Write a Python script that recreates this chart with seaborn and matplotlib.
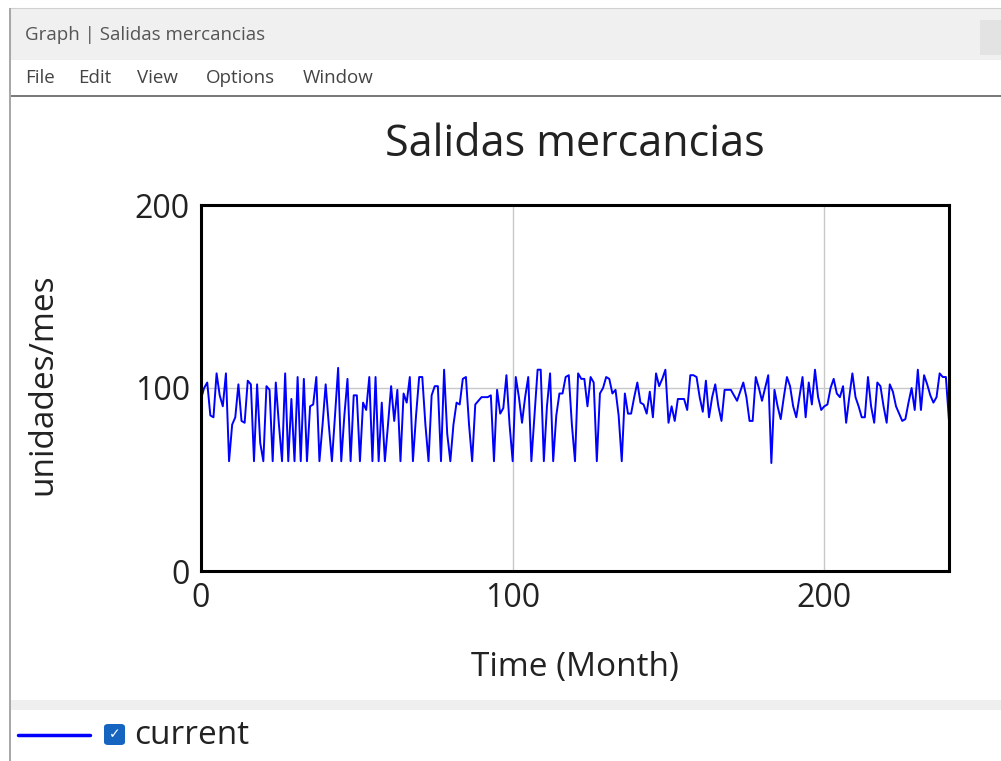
import numpy as np
import pandas as pd
import seaborn as sns
import matplotlib.pyplot as plt
from matplotlib.patches import Rectangle, FancyBboxPatch

# Salidas mercancias, months 0..240
months = list(range(241))
salidas = [
    94, 100, 103, 85, 84, 108, 96, 90, 108, 60,
    80, 84, 102, 82, 81, 104, 102, 60, 102, 70,
    60, 101, 99, 60, 103, 80, 60, 108, 60, 94,
    60, 106, 60, 105, 60, 90, 91, 106, 60, 80,
    102, 80, 60, 85, 111, 60, 85, 105, 60, 96,
    96, 60, 92, 88, 106, 60, 106, 60, 92, 60,
    80, 101, 82, 99, 60, 97, 92, 106, 60, 85,
    106, 106, 80, 60, 96, 101, 101, 60, 110, 75,
    60, 80, 92, 91, 105, 106, 80, 60, 91, 93,
    95, 95, 95, 96, 60, 99, 86, 89, 107, 80,
    60, 106, 95, 81, 95, 106, 60, 85, 110, 110,
    60, 90, 108, 60, 85, 97, 97, 106, 107, 80,
    60, 108, 105, 105, 90, 106, 103, 60, 97, 100,
    106, 105, 97, 99, 85, 60, 97, 86, 86, 95,
    103, 92, 91, 86, 98, 84, 108, 101, 105, 110,
    81, 90, 82, 94, 94, 94, 88, 107, 107, 106,
    95, 87, 104, 84, 95, 102, 90, 82, 99, 99,
    99, 96, 93, 98, 103, 95, 82, 82, 106, 100,
    93, 100, 107, 59, 99, 90, 83, 95, 106, 101,
    90, 84, 95, 106, 84, 103, 91, 110, 95, 88,
    90, 91, 100, 105, 97, 95, 101, 81, 95, 108,
    95, 90, 84, 84, 106, 90, 81, 103, 101, 90,
    81, 102, 98, 90, 86, 82, 83, 92, 100, 88,
    110, 88, 107, 102, 96, 92, 95, 108, 106, 106,
    82,
]
x_ticks = [0, 100, 200]
y_ticks = [0, 100, 200]
series_name = "current"

df = pd.DataFrame({"Time": months, "value": salidas})

sns.set_style("white")
plt.rcParams['font.family'] = ['Open Sans', 'DejaVu Sans']

W, H = 1001, 761
fig = plt.figure(figsize=(W / 100, H / 100), dpi=100)
fig.patch.set_facecolor("white")


def px_rect(x0, y0, x1, y1, **kw):
    # rectangle in screen pixels (y from top)
    r = Rectangle((x0 / W, 1 - y1 / H), (x1 - x0) / W, (y1 - y0) / H,
                  transform=fig.transFigure, **kw)
    fig.add_artist(r)
    return r


# window chrome
px_rect(10, 8, W + 5, 60, facecolor="#f0f0f0", edgecolor="#d0d0d0", lw=0.8)
px_rect(980, 20, W + 5, 55, facecolor="#e3e3e3", edgecolor="none")
fig.text(25 / W, 1 - 35 / H, "Graph | Salidas mercancias", fontsize=13.5,
         color="#555555", va="center", ha="left")
px_rect(10, 60, W + 5, 96, facecolor="white", edgecolor="none")
menu_x = [25, 78, 137, 206, 303]
for mx, lab in zip(menu_x, ["File", "Edit", "View", "Options", "Window"]):
    fig.text(mx / W, 1 - 78 / H, lab, fontsize=13.5, color="#444444",
             va="center", ha="left")
px_rect(10, 95, W + 5, 97, facecolor="#7a7a7a", edgecolor="none")
px_rect(9, 8, 11, H + 5, facecolor="#a8a8a8", edgecolor="none")
px_rect(11, 700, W + 5, 710, facecolor="#efefef", edgecolor="none")

# plot area
ax = fig.add_axes([201 / W, 1 - 571 / H, (949 - 201) / W, (571 - 205) / H])
sns.lineplot(data=df, x="Time", y="value", ax=ax, color="#0000ff",
             linewidth=1.4, legend=False)
ax.set_xlim(0, 240)
ax.set_ylim(0, 200)
ax.set_xticks(x_ticks)
ax.set_yticks(y_ticks)
ax.set_xticklabels([str(t) for t in x_ticks])
ax.set_yticklabels([str(t) for t in y_ticks])
ax.tick_params(axis="both", length=0, labelsize=23, pad=8, colors="#222222")
ax.grid(True, color="#c8c8c8", linewidth=1.0)
for s in ax.spines.values():
    s.set_visible(True)
    s.set_color("black")
    s.set_linewidth(2.2)
ax.set_xlabel("Time (Month)", fontsize=24, labelpad=26, color="#222222")
ax.set_ylabel("unidades/mes", fontsize=24, color="#222222")
ax.yaxis.set_label_coords(-0.19, 0.51)
ax.set_title("Salidas mercancias", fontsize=31, pad=35, color="#222222")

# legend row
fig.add_artist(plt.Line2D([18 / W, 90 / W], [1 - 735 / H, 1 - 735 / H],
                          transform=fig.transFigure, color="#0000ff", lw=2.5))
box = FancyBboxPatch((104 / W, 1 - 745 / H), 21 / W, 21 / H,
                     boxstyle="round,pad=0,rounding_size=0.004",
                     transform=fig.transFigure, facecolor="#1565c0",
                     edgecolor="none")
fig.add_artist(box)
fig.text(114.5 / W, 1 - 734.5 / H, "\u2713", fontsize=10, color="white",
         ha="center", va="center", family=["DejaVu Sans"])
fig.text(134 / W, 1 - 735 / H, series_name, fontsize=24, color="#222222",
         va="center", ha="left")

fig.savefig("out.png", dpi=100)
